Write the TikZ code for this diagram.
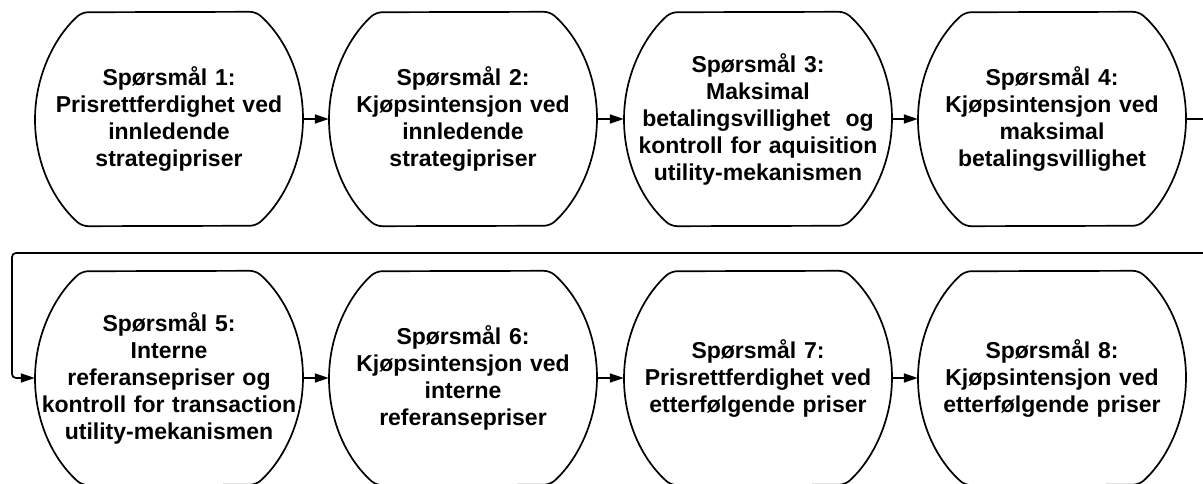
\documentclass[tikz,border=0pt]{standalone}
\usepackage{fontspec}
\setmainfont{Liberation Sans}
\usetikzlibrary{arrows.meta}
\tikzset{
  qbox/.style={rectangle, draw=none, minimum height=214pt, text width=268pt, inner sep=0pt,
    align=center, font=\bfseries\fontsize{23pt}{27pt}\selectfont},
  conn/.style={line width=1.7pt, -{Triangle[length=14pt,width=9pt]}},
  outline/.style={line width=1.7pt, line join=round, rounded corners=6pt}
}
\begin{document}
\begin{tikzpicture}[x=1pt,y=1pt]
\useasboundingbox (0,0) rectangle (1203,483);
% row 1 (image y = 119 -> 364), row 2 (image y = 378 -> 105)
\node[qbox] (q1) at (169,364) {Spørsmål 1:\\Prisrettferdighet ved\\innledende\\strategipriser};
\node[qbox] (q2) at (463,364) {Spørsmål 2:\\Kjøpsintensjon ved\\innledende\\strategipriser};
\node[qbox] (q3) at (758,364) {Spørsmål 3:\\Maksimal\\betalingsvillighet~ og\\kontroll for aquisition\\utility-mekanismen};
\node[qbox] (q4) at (1052,364) {Spørsmål 4:\\Kjøpsintensjon ved\\maksimal\\betalingsvillighet};
\node[qbox] (q5) at (169,105) {Spørsmål 5:\\Interne\\referansepriser og\\kontroll for transaction\\utility-mekanismen};
\node[qbox] (q6) at (463,105) {Spørsmål 6:\\Kjøpsintensjon ved\\interne\\referansepriser};
\node[qbox] (q7) at (758,105) {Spørsmål 7:\\Prisrettferdighet ved\\etterfølgende priser};
\node[qbox] (q8) at (1052,105) {Spørsmål 8:\\Kjøpsintensjon ved\\etterfølgende priser};
\foreach \n in {q1,q2,q3,q4,q5,q6,q7,q8}{
  \draw[outline] ([xshift=87pt]\n.north)
     arc[start angle=49.5, end angle=-49.5, x radius=134pt, y radius=140.7pt]
     -- ([xshift=-87pt]\n.south)
     arc[start angle=229.5, end angle=130.5, x radius=134pt, y radius=140.7pt]
     -- cycle;
}
\draw[conn] (q1.east) -- (q2.west);
\draw[conn] (q2.east) -- (q3.west);
\draw[conn] (q3.east) -- (q4.west);
\draw[conn] (q5.east) -- (q6.west);
\draw[conn] (q6.east) -- (q7.west);
\draw[conn] (q7.east) -- (q8.west);
\coordinate (r1) at (1210,364);
\coordinate (r2) at (1210,230);
\coordinate (l1) at (12,230);
\coordinate (l2) at (12,105);
\draw[conn, rounded corners=4pt] (q4.east) -- (r1) -- (r2) -- (l1) -- (l2) -- (q5.west);
\end{tikzpicture}
\end{document}
